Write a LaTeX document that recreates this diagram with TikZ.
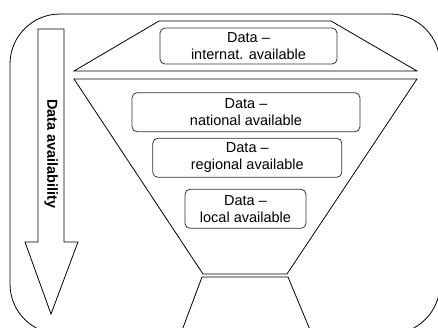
\documentclass[tikz,border=0pt]{standalone}
\usepackage{fontspec}
\setmainfont{Liberation Sans}
\begin{document}
\begin{tikzpicture}[x=1pt,y=-1pt,
  shapeline/.style={draw=black, line width=0.8pt},
  databox/.style={draw=black!80, line width=0.8pt, rounded corners=5pt, align=center,
    inner sep=0pt, font=\fontsize{14.5}{17}\selectfont},
  arrowlabel/.style={font=\bfseries\fontsize{14.5}{17}\selectfont, rotate=-90}]
\useasboundingbox (0,0) rectangle (438,327);
\clip (0,0) rectangle (438,327);
% outer rounded frame
\draw[shapeline, rounded corners=50pt] (10,14) rectangle (440,334);
% top trapezoid
\draw[shapeline] (159,21) -- (331,21) -- (417,71) -- (74,71) -- cycle;
% funnel
\draw[shapeline] (74,79) -- (417,79) -- (287,274) -- (203,274) -- cycle;
% lower trapezoid
\draw[shapeline] (178.8,327+12) -- (202,277) -- (288,277) -- (313.8,327+12);
% arrow
\draw[shapeline] (38,29) -- (64,29) -- (64,242) -- (78,242) -- (51,314) -- (25,242) -- (38,242) -- cycle;
\node[arrowlabel] (avail) at (51,154) {Data availability};
% boxes
\node[databox, minimum width=177pt, minimum height=36pt] (intl) at (248.5,46) {Data –\\internat. available};
\node[databox, minimum width=228pt, minimum height=39pt] (natl) at (246,112.2) {Data –\\national available};
\node[databox, minimum width=189pt, minimum height=39pt] (regl) at (247.3,157.8) {Data –\\regional available};
\node[databox, minimum width=121pt, minimum height=39pt] (locl) at (245.5,208.8) {Data –\\local available};
\end{tikzpicture}
\end{document}
